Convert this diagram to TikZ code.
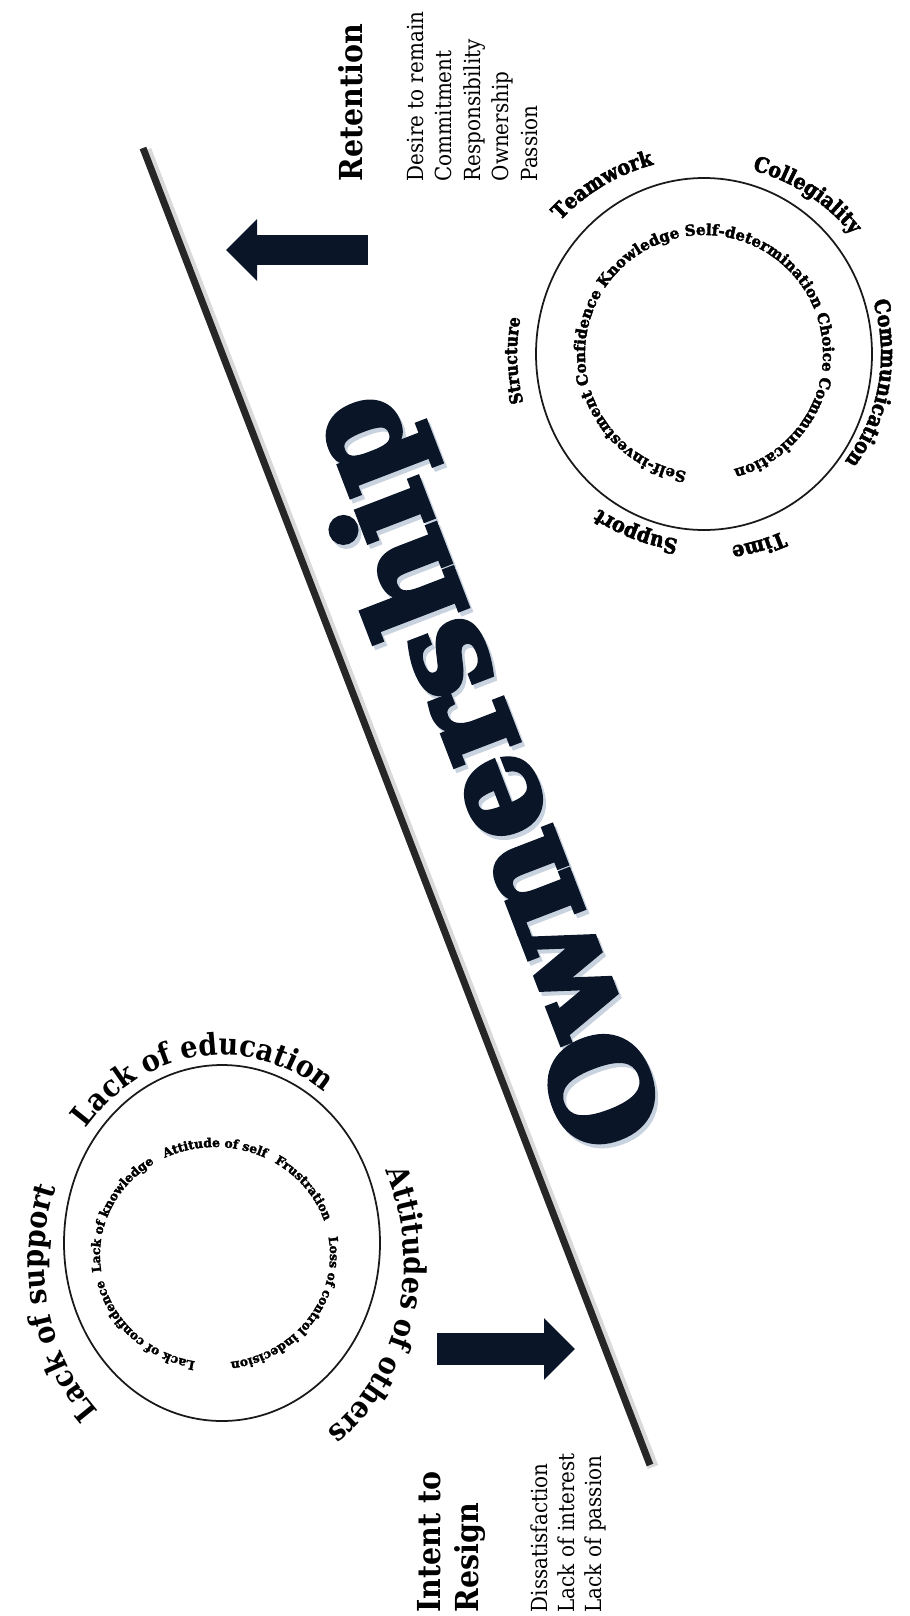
\documentclass[tikz,border=0pt]{standalone}
\usepackage{fontspec}
\setmainfont{DejaVu Serif Condensed}
\newfontfamily\slabfont{DejaVu Serif}[BoldFeatures={FakeBold=2.5}]
\newfontfamily\ownfont{DejaVu Serif}[BoldFeatures={FakeBold=4}]
\newfontfamily\ringfont{DejaVu Serif Condensed}[BoldFeatures={FakeBold=2.5}]
\usetikzlibrary{arrows.meta, calc, decorations.text}

\definecolor{inkblue}{HTML}{0A1628}
\definecolor{glow}{HTML}{C9D3E0}

\tikzset{
  ringline/.style={line width=0.5pt, black!90},
  outerA/.style={decorate, decoration={text along path, text align=center,
      text={|\ringfont\bfseries\fontsize{6}{6}\selectfont|#1}}},
  outerS/.style={decorate, decoration={text along path, text align=center,
      text={|\ringfont\bfseries\fontsize{5}{5}\selectfont|#1}}},
  innerA/.style={decorate, decoration={text along path, text align=center,
      text={|\slabfont\bfseries\fontsize{4.3}{5}\selectfont|#1}}},
  innerB/.style={decorate, decoration={text along path, text align=center,
      text={|\slabfont\bfseries\fontsize{3.5}{4}\selectfont|#1}}},
  outerB/.style={decorate, decoration={text along path, text align=center,
      text={|\bfseries\fontsize{8.6}{9}\selectfont|#1}}},
  heading/.style={rotate=90, anchor=base west, inner sep=0pt,
      font=\bfseries\fontsize{9}{10}\selectfont},
  listword/.style={rotate=90, anchor=base west, inner sep=0pt,
      font=\fontsize{6.3}{7}\selectfont},
  blockarrow/.style={line width=0.30cm, inkblue,
      -{Triangle[length=0.31cm, width=0.60cm]}},
}

\begin{document}
\begin{tikzpicture}[>=Stealth]
\useasboundingbox (0,0) rectangle (9.09,-16.16);

% ---- Dividing line ------------------------------------------------------
\coordinate (lineTop) at (1.43,-1.48);
\coordinate (lineBot) at (6.50,-14.65);
\draw[line width=0.11cm, black!15] ($(lineTop)+(0.03,-0.02)$) -- ($(lineBot)+(0.03,-0.02)$);
\draw[line width=0.07cm, black!85] (lineTop) -- (lineBot);

% ---- Ownership ----------------------------------------------------------
\node[rotate=111.04, inner sep=0pt, text=glow,
      font=\ownfont\bfseries\fontsize{37.5}{40}\selectfont] (ownShadow) at (4.94,-7.74) {Ownership};
\node[rotate=111.04, inner sep=0pt, text=inkblue,
      font=\ownfont\bfseries\fontsize{37.5}{40}\selectfont] (own) at (4.91,-7.70) {Ownership};

% ---- Retention side -----------------------------------------------------
\coordinate (retTail) at (3.68,-2.50);
\coordinate (retTip)  at (2.26,-2.50);
\draw[blockarrow] (retTail) -- (retTip);

\node[heading] (ret) at (3.62,-1.82) {Retention};
\foreach \t [count=\i] in {Desire to remain, Commitment, Responsibility, Ownership, Passion}
  \node[listword] (ret\i) at ({4.23+0.286*(\i-1)},-1.82) {\t};

% circle of positive factors
\coordinate (c1) at (7.04,-3.54);
\draw[ringline] (c1) ellipse [x radius=1.68, y radius=1.76];

\path[innerA={Self-investment Confidence Knowledge Self-determination Choice Communication}]
      ([shift={(264:1.19)}]c1) arc[start angle=264, end angle=-78, radius=1.19];

\path[outerA={Teamwork}]      ([shift={(161:1.96)}]c1) arc[start angle=161, end angle=81, radius=1.96];
\path[outerA={Collegiality}]  ([shift={(97:1.90)}]c1)  arc[start angle=97, end angle=17, radius=1.90];
\path[outerA={Communication}] ([shift={(30:1.77)}]c1)  arc[start angle=30, end angle=-50, radius=1.77];
\path[outerA={Time}]          ([shift={(-34:1.94)}]c1) arc[start angle=-34, end angle=-114, radius=1.94];
\path[outerA={Support}]       ([shift={(-71:1.87)}]c1) arc[start angle=-71, end angle=-151, radius=1.87];
\path[outerS={Structure}]     ([shift={(222:1.87)}]c1) arc[start angle=222, end angle=142, radius=1.87];

% ---- Intent to resign side ----------------------------------------------
\coordinate (resTail) at (4.37,-13.49);
\coordinate (resTip)  at (5.75,-13.49);
\draw[blockarrow, line width=0.32cm] (resTail) -- (resTip);

\node[heading] (res1) at (4.40,-16.13) {Intent to};
\node[heading] (res2) at (4.78,-16.13) {Resign};
\foreach \t [count=\i] in {Dissatisfaction, Lack of interest, Lack of passion}
  \node[listword] (res\i) at ({5.47+0.27*(\i-1)},-16.13) {\t};

% circle of negative factors
\coordinate (c2) at (2.22,-12.43);
\coordinate (c2in) at (2.15,-12.55);
\coordinate (c2out) at (2.22,-12.62);
\draw[ringline] (c2) ellipse [x radius=1.58, y radius=1.78];

\path[innerB={Attitude of self}]
      ([shift={(150:1.15 and 1.08)}]c2in) arc[start angle=150, end angle=30, x radius=1.15, y radius=1.08];
\path[innerB={Frustration}]
      ([shift={(97:1.15 and 1.08)}]c2in) arc[start angle=97, end angle=-22, x radius=1.15, y radius=1.08];
\path[innerB={Loss of control indecision}]
      ([shift={(24:1.15 and 1.08)}]c2in) arc[start angle=24, end angle=-96, x radius=1.15, y radius=1.08];
\path[innerB={Lack of confidence}]
      ([shift={(-74:1.15 and 1.08)}]c2in) arc[start angle=-74, end angle=-194, x radius=1.15, y radius=1.08];
\path[innerB={Lack of knowledge}]
      ([shift={(216:1.15 and 1.08)}]c2in) arc[start angle=216, end angle=96, x radius=1.15, y radius=1.08];

\path[outerB={Lack of education}]
      ([shift={(157:1.78 and 2.07)}]c2out) arc[start angle=157, end angle=37, x radius=1.78, y radius=2.07];
\path[outerB={Lack of support}]
      ([shift={(243:1.78 and 2.07)}]c2out) arc[start angle=243, end angle=143, x radius=1.78, y radius=2.07];
\path[outerB={Attitudes of others}]
      ([shift={(45:1.82 and 2.07)}]c2out) arc[start angle=45, end angle=-75, x radius=1.82, y radius=2.07];

\end{tikzpicture}
\end{document}
